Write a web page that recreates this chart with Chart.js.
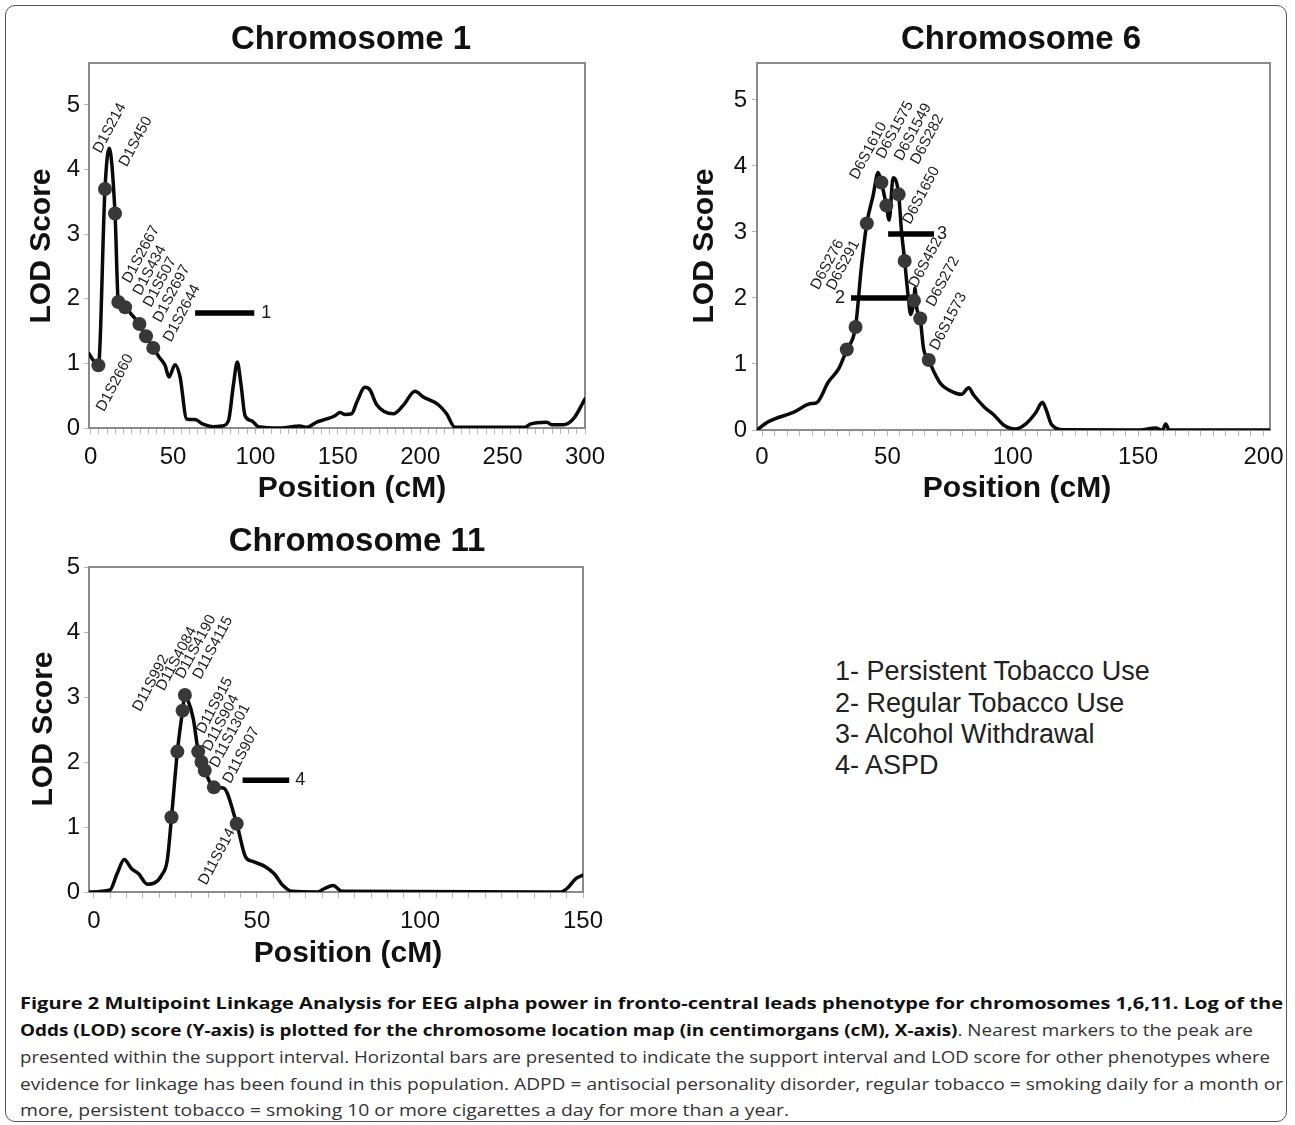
<!DOCTYPE html>
<html><head><meta charset="utf-8">
<script src="https://cdn.jsdelivr.net/npm/chart.js@4.4.1/dist/chart.umd.min.js"></script>
<style>
html,body{margin:0;padding:0;background:#fff;width:1295px;height:1125px;overflow:hidden;position:relative;}
#frame{position:absolute;left:5px;top:5px;width:1282px;height:1117px;border:1.5px solid #555;border-radius:10px;box-sizing:border-box;}
canvas{position:absolute;}
.leg{position:absolute;left:835px;font-family:'Liberation Sans',Arial,sans-serif;font-size:27px;color:#222;line-height:30px;white-space:nowrap;}
.ln{position:absolute;left:20px;font-family:'Open Sans',sans-serif;font-size:16.5px;line-height:22px;white-space:nowrap;color:#333;transform-origin:0 50%;}
.ln b{color:#111;font-weight:700;}
</style></head><body>
<div id="frame"></div>
<canvas id="c1"></canvas>
<canvas id="c6"></canvas>
<canvas id="c11"></canvas>
<div class="ln" style="top:992px" data-w="1263"><b>Figure 2 Multipoint Linkage Analysis for EEG alpha power in fronto-central leads phenotype for chromosomes 1,6,11. Log of the</b></div>
<div class="ln" style="top:1019px" data-w="1233"><b>Odds (LOD) score (Y-axis) is plotted for the chromosome location map (in centimorgans (cM), X-axis)</b>. Nearest markers to the peak are</div>
<div class="ln" style="top:1046px" data-w="1250">presented within the support interval. Horizontal bars are presented to indicate the support interval and LOD score for other phenotypes where</div>
<div class="ln" style="top:1073px" data-w="1263">evidence for linkage has been found in this population. ADPD = antisocial personality disorder, regular tobacco = smoking daily for a month or</div>
<div class="ln" style="top:1099px" data-w="769">more, persistent tobacco = smoking 10 or more cigarettes a day for more than a year.</div>
<script>
// ---------------- DATA ----------------
const yTickLabels = [0, 1, 2, 3, 4, 5];
const xAxisTitle = 'Position (cM)';
const yAxisTitle = 'LOD Score';

const chr1Title = 'Chromosome 1';
const chr1XTickLabels = [0, 50, 100, 150, 200, 250, 300];
const chr1Pos = [-1, 1.5, 4.7, 8.7, 11.2, 14.8, 16.8, 20.9, 25, 29.6, 33.6, 38, 41.5, 45.1, 47.6, 51.2, 54.2, 58.3, 63.3, 68.2, 74.3, 79.6, 83.6, 86.6, 89, 91.3, 93.7, 97.8, 101.8, 115, 127, 131, 137.2, 143.3, 148.3, 151.3, 154.4, 158.4, 161.5, 166.5, 169.5, 173.6, 183.7, 189.7, 196.8, 201.9, 211, 216, 221.1, 263.6, 266.7, 276.8, 279.8, 286.8, 292.9, 300];
const chr1LOD = [1.15, 1.05, 0.97, 3.7, 4.33, 3.32, 1.95, 1.87, 1.75, 1.61, 1.42, 1.24, 1.1, 0.97, 0.79, 0.98, 0.8, 0.14, 0.13, 0.06, 0.02, 0.03, 0.11, 0.66, 1.02, 0.66, 0.19, 0.11, 0.02, 0, 0.03, 0.01, 0.09, 0.14, 0.19, 0.24, 0.21, 0.22, 0.4, 0.63, 0.59, 0.36, 0.22, 0.35, 0.57, 0.48, 0.36, 0.22, 0.01, 0.01, 0.06, 0.09, 0.05, 0.05, 0.14, 0.45];
const chr1Markers = ['D1S2660', 'D1S214', 'D1S450', 'D1S2667', 'D1S434', 'D1S507', 'D1S2697', 'D1S2644'];
const chr1MarkerPos = [4.7, 8.7, 14.8, 16.8, 20.9, 29.6, 33.6, 38];
const chr1MarkerLOD = [0.97, 3.7, 3.32, 1.95, 1.87, 1.61, 1.42, 1.24];
const chr1Bars = ['1'];
const chr1BarStart = [63.4];
const chr1BarEnd = [99.3];
const chr1BarLOD = [1.78];

const chr6Title = 'Chromosome 6';
const chr6XTickLabels = [0, 50, 100, 150, 200];
const chr6Pos = [-2, 2.3, 12.7, 19.6, 21.7, 26.5, 30.6, 33.8, 37.3, 39.6, 41.8, 44.3, 46.3, 47.6, 49.6, 50.7, 52.3, 54.5, 55.6, 56.9, 58.2, 59.3, 60.6, 61, 61.7, 63.1, 64.4, 66.5, 68.6, 71.3, 74.8, 79.6, 82.4, 84.4, 88.6, 92.7, 96.2, 101, 105.1, 109.3, 111.8, 113.4, 115.5, 120.3, 150.7, 156.9, 159.7, 161, 162.4, 202.6];
const chr6LOD = [0, 0.12, 0.27, 0.4, 0.41, 0.73, 0.93, 1.22, 1.56, 2.46, 3.13, 3.55, 3.9, 3.75, 3.4, 3.18, 3.82, 3.57, 3.03, 2.56, 2.06, 1.75, 1.96, 2.15, 1.85, 1.69, 1.24, 1.06, 0.88, 0.7, 0.6, 0.54, 0.64, 0.53, 0.35, 0.22, 0.08, 0.015, 0.09, 0.27, 0.42, 0.3, 0.08, 0.005, 0, 0.03, 0, 0.09, 0, 0];
const chr6Markers = ['D6S276', 'D6S291', 'D6S1610', 'D6S1575', 'D6S1549', 'D6S282', 'D6S1650', 'D6S452', 'D6S272', 'D6S1573'];
const chr6MarkerPos = [33.8, 37.3, 41.8, 47.6, 49.6, 54.5, 56.9, 60.6, 63.1, 66.5];
const chr6MarkerLOD = [1.22, 1.56, 3.13, 3.75, 3.4, 3.57, 2.56, 1.96, 1.69, 1.06];
const chr6Bars = ['2', '3'];
const chr6BarStart = [35.5, 50.3];
const chr6BarEnd = [58.9, 68.6];
const chr6BarLOD = [2.0, 2.97];

const chr11Title = 'Chromosome 11';
const chr11XTickLabels = [0, 50, 100, 150];
const chr11Pos = [-1.5, 4.9, 7.1, 9.3, 11.5, 13.7, 16.4, 18.6, 20.8, 22.5, 23.8, 25.6, 27.2, 27.9, 28.6, 30.5, 32, 33, 34, 36.8, 39.7, 43.8, 46.5, 48.7, 52.6, 55.3, 58, 60.8, 68.5, 70.6, 73.4, 76.1, 143, 145, 147.9, 150];
const chr11LOD = [0, 0.03, 0.28, 0.5, 0.36, 0.28, 0.12, 0.14, 0.26, 0.49, 1.15, 2.16, 2.79, 3.03, 2.98, 2.66, 2.16, 2.0, 1.87, 1.61, 1.6, 1.05, 0.54, 0.47, 0.39, 0.28, 0.1, 0.01, 0, 0.05, 0.1, 0.01, 0, 0.05, 0.21, 0.26];
const chr11Markers = ['D11S992', 'D11S4084', 'D11S4190', 'D11S4115', 'D11S915', 'D11S904', 'D11S1301', 'D11S907', 'D11S914'];
const chr11MarkerPos = [23.8, 25.6, 27.2, 27.9, 32, 33, 34, 36.8, 43.8];
const chr11MarkerLOD = [1.15, 2.16, 2.79, 3.03, 2.16, 2.0, 1.87, 1.61, 1.05];
const chr11Bars = ['4'];
const chr11BarStart = [45.6];
const chr11BarEnd = [59.9];
const chr11BarLOD = [1.72];

const legendItems = ['1- Persistent Tobacco Use', '2- Regular Tobacco Use', '3- Alcohol Withdrawal', '4- ASPD'];

// ---------------- STYLE / LAYOUT ----------------
const SANS = "'Liberation Sans', Arial, Helvetica, sans-serif";
// canvas placement, chart-area margins and text anchor points (page pixels)
const layouts = {
  c1: {left:0, top:0, w:640, h:520, yW:89, xH:92, padR:55, padT:63,
       xmin:-1, xmax:300, ymax:5.65, xTickPad:8.6, yTickPad:4,
       titleXY:[351, 40], xTitleXY:[352, 489], yTitleXY:[42, 246],
       labelOffsets:[[2,45],[-8,-37],[8,-48],[8,-20],[12,-13],[8,-18],[11,-15],[14,-7]],
       barLabel:[['right',7]]},
  c6: {left:680, top:0, w:615, h:520, yW:77, xH:90, padR:25, padT:63,
       xmin:-2, xmax:202.6, ymax:5.56, xTickPad:6.6, yTickPad:5,
       titleXY:[1021, 40], xTitleXY:[1017, 489], yTitleXY:[705, 246],
       labelOffsets:[[-32,-61],[-25,-38],[-13,-45],[-1,-25],[12,-46],[16,-31],[2,-38],[-1,-14],[10,-13],[5,-11]],
       barLabel:[['left',-6],['right',3]]},
  c11:{left:0, top:500, w:640, h:480, yW:89, xH:88, padR:57, padT:67,
       xmin:-1.5, xmax:150, ymax:5.0, xTickPad:8.6, yTickPad:4,
       titleXY:[357, 542], xTitleXY:[348, 954], yTitleXY:[44, 729],
       labelOffsets:[[-35,-107],[-17,-62],[-3,-33],[12,-17],[2,-19],[5,-12],[9,-4],[13,-5],[-34,60]],
       barLabel:[['right',6]]}
};

function boxPlugin() {
  return {
    id: 'plotBox',
    beforeDatasetsDraw(chart) {
      const a = chart.chartArea, ctx = chart.ctx;
      ctx.save();
      ctx.strokeStyle = '#8a8a8a';
      ctx.lineWidth = 2;
      ctx.strokeRect(a.left, a.top, a.right - a.left, a.bottom - a.top);
      ctx.restore();
    }
  };
}

function textPlugin(d, L) {
  return {
    id: 'panelTexts',
    afterDraw(chart) {
      const ctx = chart.ctx;
      ctx.save();
      ctx.fillStyle = '#111';
      ctx.textAlign = 'center';
      ctx.textBaseline = 'middle';
      ctx.font = 'bold 33px ' + SANS;
      ctx.fillText(d.title, L.titleXY[0] - L.left, L.titleXY[1] - L.top);
      ctx.font = 'bold 30px ' + SANS;
      ctx.fillText(xAxisTitle, L.xTitleXY[0] - L.left, L.xTitleXY[1] - L.top);
      ctx.translate(L.yTitleXY[0] - L.left, L.yTitleXY[1] - L.top);
      ctx.rotate(-Math.PI / 2);
      ctx.fillText(yAxisTitle, 0, 0);
      ctx.restore();
    }
  };
}

function labelPlugin(d, L) {
  return {
    id: 'markerLabels',
    afterDatasetsDraw(chart) {
      const ctx = chart.ctx, x = chart.scales.x, y = chart.scales.y;
      ctx.save();
      ctx.fillStyle = '#1a1a1a';
      ctx.font = '15px ' + SANS;
      ctx.textBaseline = 'middle';
      ctx.textAlign = 'left';
      d.names.forEach((n, i) => {
        const px = x.getPixelForValue(d.mPos[i]) + L.labelOffsets[i][0];
        const py = y.getPixelForValue(d.mLod[i]) + L.labelOffsets[i][1];
        ctx.save();
        ctx.translate(px, py);
        ctx.rotate(-62 * Math.PI / 180);
        ctx.fillText(n, 0, 0);
        ctx.restore();
      });
      ctx.font = '18px ' + SANS;
      d.bNames.forEach((n, i) => {
        const side = L.barLabel[i][0], off = L.barLabel[i][1];
        const py = y.getPixelForValue(d.bLod[i]);
        if (side === 'right') {
          ctx.textAlign = 'left';
          ctx.fillText(n, x.getPixelForValue(d.bEnd[i]) + off, py);
        } else {
          ctx.textAlign = 'right';
          ctx.fillText(n, x.getPixelForValue(d.bStart[i]) + off, py);
        }
      });
      ctx.restore();
    }
  };
}

function panel(id, d) {
  const L = layouts[id];
  const canvas = document.getElementById(id);
  canvas.width = L.w; canvas.height = L.h;
  canvas.style.left = L.left + 'px'; canvas.style.top = L.top + 'px';
  canvas.style.width = L.w + 'px'; canvas.style.height = L.h + 'px';

  const curve = d.pos.map((p, i) => ({x: p, y: d.lod[i]}));
  const dots = d.mPos.map((p, i) => ({x: p, y: d.mLod[i]}));
  const bars = d.bNames.map((n, i) => ({
    label: 'bar ' + n,
    data: [{x: d.bStart[i], y: d.bLod[i]}, {x: d.bEnd[i], y: d.bLod[i]}],
    borderColor: '#000', borderWidth: 5.5, pointRadius: 0, borderCapStyle: 'butt', tension: 0, order: 1
  }));
  const minor = [];
  for (let v = 0; v <= L.xmax + 1e-9; v += 5) minor.push(v);

  new Chart(canvas, {
    type: 'line',
    data: {datasets: [
      {label: 'LOD', data: curve, borderColor: '#0a0a0a', borderWidth: 3.5, pointRadius: 0,
       cubicInterpolationMode: 'monotone', borderJoinStyle: 'round', borderCapStyle: 'round', order: 3},
      ...bars,
      {label: 'markers', data: dots, showLine: false, pointRadius: 7, pointBackgroundColor: '#383838',
       pointBorderWidth: 0, order: 0}
    ]},
    options: {
      responsive: false, animation: false, events: [],
      layout: {padding: {left: 0, right: L.padR, top: L.padT, bottom: 0}},
      plugins: {legend: {display: false}, tooltip: {enabled: false}, title: {display: false}},
      scales: {
        x: {
          type: 'linear', min: L.xmin, max: L.xmax,
          afterBuildTicks: s => { s.ticks = minor.map(v => ({value: v})); },
          afterFit: s => { s.height = L.xH; },
          ticks: {autoSkip: false, maxRotation: 0, minRotation: 0, padding: L.xTickPad, color: '#111',
                  font: {family: SANS, size: 24},
                  callback: v => d.xLabels.includes(v) ? String(v) : ''},
          grid: {drawOnChartArea: false, drawTicks: true, tickLength: 6, color: '#b5b5b5', lineWidth: 1},
          border: {display: false},
          title: {display: false}
        },
        y: {
          type: 'linear', min: 0, max: L.ymax,
          afterBuildTicks: s => { s.ticks = yTickLabels.map(v => ({value: v})); },
          afterFit: s => { s.width = L.yW; },
          ticks: {padding: L.yTickPad, color: '#111', font: {family: SANS, size: 24},
                  callback: v => String(v)},
          grid: {drawOnChartArea: false, drawTicks: true, tickLength: 5, color: '#b5b5b5', lineWidth: 1},
          border: {display: false},
          title: {display: false}
        }
      }
    },
    plugins: [boxPlugin(), labelPlugin(d, L), textPlugin(d, L)]
  });
}

panel('c1', {title: chr1Title, xLabels: chr1XTickLabels, pos: chr1Pos, lod: chr1LOD,
  names: chr1Markers, mPos: chr1MarkerPos, mLod: chr1MarkerLOD,
  bNames: chr1Bars, bStart: chr1BarStart, bEnd: chr1BarEnd, bLod: chr1BarLOD});
panel('c6', {title: chr6Title, xLabels: chr6XTickLabels, pos: chr6Pos, lod: chr6LOD,
  names: chr6Markers, mPos: chr6MarkerPos, mLod: chr6MarkerLOD,
  bNames: chr6Bars, bStart: chr6BarStart, bEnd: chr6BarEnd, bLod: chr6BarLOD});
panel('c11', {title: chr11Title, xLabels: chr11XTickLabels, pos: chr11Pos, lod: chr11LOD,
  names: chr11Markers, mPos: chr11MarkerPos, mLod: chr11MarkerLOD,
  bNames: chr11Bars, bStart: chr11BarStart, bEnd: chr11BarEnd, bLod: chr11BarLOD});

// legend text
const legendTops = [656, 688, 719, 750];
legendItems.forEach((t, i) => {
  const el = document.createElement('div');
  el.className = 'leg';
  el.style.top = legendTops[i] + 'px';
  el.textContent = t;
  document.body.appendChild(el);
});

// caption line fitting
function fitCaption() {
  document.querySelectorAll('.ln').forEach(el => {
    el.style.transform = 'none';
    const w = el.getBoundingClientRect().width;
    el.style.transform = 'scaleX(' + (parseFloat(el.dataset.w) / w) + ')';
  });
}
fitCaption();
if (document.fonts && document.fonts.ready) document.fonts.ready.then(fitCaption);
</script>
</body></html>
